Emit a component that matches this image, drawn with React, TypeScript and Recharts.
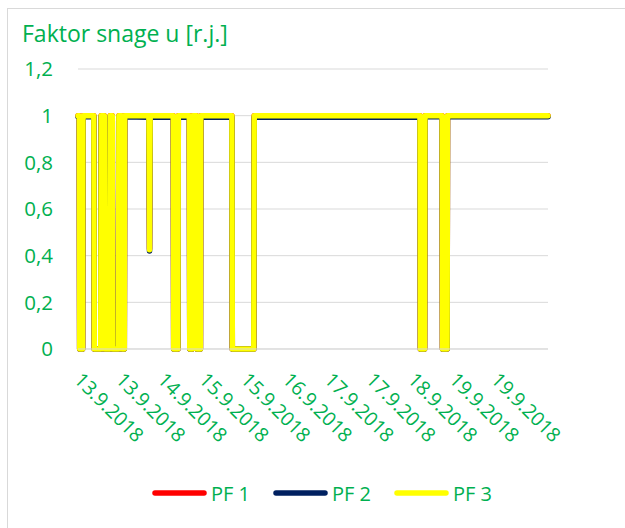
import React from 'react';
import { LineChart, Line, XAxis, YAxis, CartesianGrid } from 'recharts';

// time axis in chart units (10 units between date ticks)
const timeX = [
  0, 0.3, 0.4, 1.1, 1.2, 3.8, 3.9, 5.45, 5.55, 6.3, 6.4, 7.6, 7.7, 8.22, 8.32, 9.7, 9.8,
  10.5, 10.6, 11.1, 11.2, 17.0, 17.15, 17.3, 22.85, 22.95, 23.95, 24.05,
  26.7, 26.8, 27.4, 27.5, 28.4, 28.5, 29.35, 29.45, 36.9, 37.0, 42.15, 42.25, 82.0, 82.1,
  83.1, 83.2, 87.3, 87.4, 88.5, 88.6, 112.7,
];

const pf1 = [
  1, 1, 0, 0, 1, 1, 0, 0, 1, 1, 0, 0, 1, 1, 0, 0, 1,
  1, 0, 0, 1, 1, 0.43, 1, 1, 0, 0, 1,
  1, 0, 0, 1, 1, 0, 0, 1, 1, 0, 0, 1, 1, 0,
  0, 1, 1, 0, 0, 1, 1,
];

const pf2 = [
  0.995, 0.995, 0, 0, 0.995, 0.995, 0, 0, 0.995, 0.995, 0, 0, 0.995, 0.995, 0, 0, 0.995,
  0.995, 0, 0, 0.995, 0.993, 0.42, 0.993, 0.993, 0, 0, 0.993,
  0.993, 0, 0, 0.993, 0.993, 0, 0, 0.993, 0.993, 0, 0, 0.993, 0.993, 0,
  0, 0.995, 0.995, 0, 0, 0.995, 0.995,
];

const pf3 = [
  1, 1, 0, 0, 1, 1, 0, 0, 1, 1, 0, 0, 1, 1, 0, 0, 1,
  1, 0, 0, 1, 1, 0.425, 1, 1, 0, 0, 1,
  1, 0, 0, 1, 1, 0, 0, 1, 1, 0, 0, 1, 1, 0,
  0, 1, 1, 0, 0, 1, 1,
];

const tickPos = [0, 10, 20, 30, 40, 50, 60, 70, 80, 90, 100];
const tickLabels = [
  '13.9.2018', '13.9.2018', '14.9.2018', '15.9.2018', '15.9.2018', '16.9.2018',
  '17.9.2018', '17.9.2018', '18.9.2018', '19.9.2018', '19.9.2018',
];

const yTicks = [0, 0.2, 0.4, 0.6, 0.8, 1, 1.2];

const series = [
  { key: 'pf1', name: 'PF 1', color: '#ff0000' },
  { key: 'pf2', name: 'PF 2', color: '#002060' },
  { key: 'pf3', name: 'PF 3', color: '#ffff00' },
];

const GREEN = '#00b050';
const FONT = '"Open Sans", sans-serif';

const data = timeX.map((t, i) => ({ t, pf1: pf1[i], pf2: pf2[i], pf3: pf3[i] }));

const DateTick = (props: any) => {
  const { x, payload } = props;
  const idx = tickPos.indexOf(payload.value);
  const tx = x - 5;
  const ty = 381;
  return (
    <text x={tx} y={ty} transform={`rotate(45, ${tx}, ${ty})`} textAnchor="start"
      fill={GREEN} fontSize={19.5} fontFamily={FONT}>
      {idx >= 0 ? tickLabels[idx] : ''}
    </text>
  );
};

export default function App() {
  return (
    <div style={{ position: 'absolute', left: 0, top: 0, width: 625, height: 528, background: '#fff', fontFamily: FONT }}>
      <div style={{ position: 'absolute', left: 7, top: 8, width: 618, height: 520, borderLeft: '1px solid #d9d9d9', borderTop: '1px solid #d9d9d9' }} />
      <div style={{ position: 'absolute', left: 22, top: 17, fontSize: 23, color: GREEN, whiteSpace: 'nowrap' }}>
        Faktor snage u [r.j.]
      </div>
      <div style={{ position: 'absolute', left: 0, top: 0 }}>
        <LineChart width={625} height={528} data={data} margin={{ top: 69, right: 77, left: 0, bottom: 0 }}>
          <CartesianGrid vertical={false} stroke="#d9d9d9" strokeWidth={1} />
          <XAxis dataKey="t" type="number" domain={[0, 112.7]} ticks={tickPos} height={179}
            axisLine={{ stroke: '#d9d9d9' }} tickLine={false} tick={<DateTick />} interval={0} />
          <YAxis domain={[0, 1.2]} ticks={yTicks} width={78} axisLine={false} tickLine={false}
            tickMargin={19} tick={{ fill: GREEN, fontSize: 20.5, fontFamily: FONT }}
            tickFormatter={(v: number) => String(Math.round(v * 10) / 10).replace('.', ',')} />
          {series.map(s => (
            <Line key={s.key} type="linear" dataKey={s.key} name={s.name} stroke={s.color}
              strokeWidth={5.5} dot={false} strokeLinejoin="round" strokeLinecap="round"
              isAnimationActive={false} />
          ))}
        </LineChart>
      </div>
      <div style={{ position: 'absolute', left: 152, top: 478, display: 'flex', alignItems: 'center', height: 30 }}>
        {series.map(s => (
          <div key={s.key} style={{ display: 'flex', alignItems: 'center', width: 121 }}>
            <svg width={55} height={10} style={{ display: 'block' }}>
              <line x1={3} y1={5} x2={52} y2={5} stroke={s.color} strokeWidth={5.5} strokeLinecap="round" />
            </svg>
            <span style={{ marginLeft: 4, fontSize: 20, color: GREEN, whiteSpace: 'nowrap' }}>{s.name}</span>
          </div>
        ))}
      </div>
    </div>
  );
}
